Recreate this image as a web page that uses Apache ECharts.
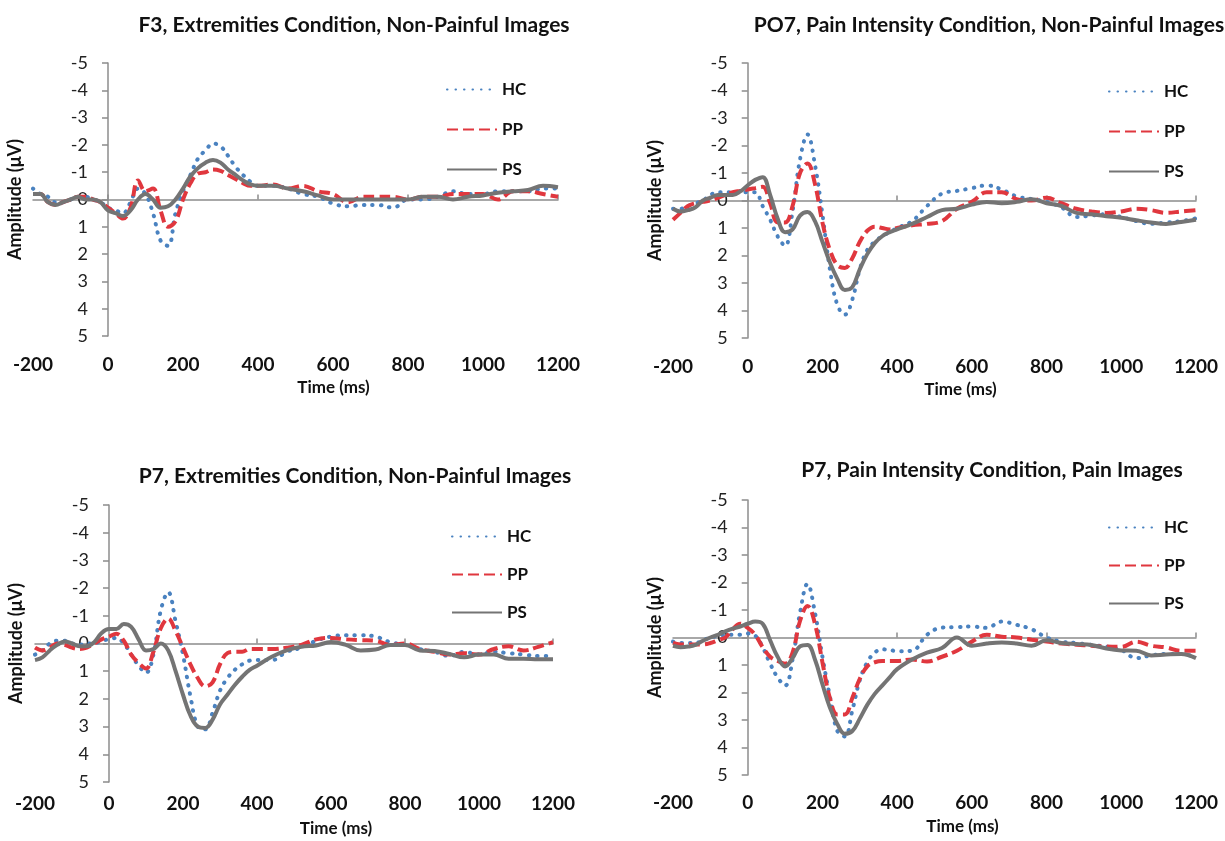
<!DOCTYPE html>
<html>
<head>
<meta charset="utf-8">
<title>ERP waveforms</title>
<script src="https://cdn.jsdelivr.net/npm/echarts@6/dist/echarts.min.js"></script>
<style>
  html, body { margin: 0; padding: 0; background: #fff; }
  #main { width: 1225px; height: 841px; }
</style>
</head>
<body>
<div id="main"></div>
<script>
// time points (ms), shared by all four panels
var times = [-200,-180,-160,-140,-120,-100,-80,-60,-40,-20,
  0,20,40,60,80,100,120,140,160,180,
  200,220,240,260,280,300,320,340,360,380,
  400,440,480,520,560,600,640,680,720,760,
  800,840,880,920,960,1000,1040,1080,1120,1160,1200];

// F3, Extremities Condition, Non-Painful Images (µV)
var f3HC = [-0.4,-0.2,-0.1,0.1,0.1,0.0,-0.1,-0.1,0.0,0.1,
  0.3,0.4,0.5,0.1,-0.4,-0.2,0.5,1.5,1.7,0.5,
  -0.3,-0.9,-1.5,-1.8,-2.05,-1.95,-1.6,-1.2,-0.9,-0.65,
  -0.5,-0.5,-0.4,-0.2,-0.1,0.15,0.25,0.2,0.2,0.3,
  0.0,0.0,-0.1,-0.3,-0.2,-0.2,-0.3,-0.3,-0.3,-0.4,-0.4];
var f3PP = [-0.2,-0.2,0.1,0.2,0.1,0.0,-0.1,-0.1,0.0,0.1,
  0.3,0.5,0.7,0.3,-0.7,-0.3,-0.4,0.4,1.0,0.8,
  0.0,-0.6,-0.95,-1.0,-1.1,-1.05,-0.9,-0.75,-0.6,-0.5,
  -0.5,-0.55,-0.4,-0.5,-0.3,-0.2,0.1,-0.1,-0.1,-0.1,
  0.0,-0.1,-0.1,-0.2,-0.2,-0.2,0.0,-0.3,-0.3,-0.2,-0.1];
var f3PS = [-0.2,-0.2,0.1,0.2,0.1,0.0,-0.1,0.0,0.0,0.1,
  0.4,0.5,0.6,0.4,0.0,-0.2,0.0,0.3,0.25,0.0,
  -0.4,-0.85,-1.15,-1.35,-1.45,-1.35,-1.1,-0.9,-0.7,-0.55,
  -0.5,-0.5,-0.4,-0.3,-0.15,0.0,0.0,0.0,0.0,0.0,
  0.0,-0.1,-0.1,0.0,-0.1,-0.15,-0.25,-0.3,-0.35,-0.5,-0.45];

// PO7, Pain Intensity Condition, Non-Painful Images
var po7HC = [0.3,0.3,0.2,0.1,0.0,-0.2,-0.3,-0.3,-0.3,-0.3,
  -0.3,-0.3,0.2,0.7,1.3,1.65,0.4,-1.5,-2.4,-1.3,
  0.5,2.5,3.8,4.15,3.6,2.5,1.8,1.5,1.3,1.15,
  1.0,0.75,0.2,-0.25,-0.35,-0.45,-0.55,-0.4,-0.15,-0.05,
  0.05,0.25,0.6,0.55,0.5,0.6,0.75,0.85,0.8,0.75,0.65];
var po7PP = [0.7,0.45,0.2,0.1,0.05,0.0,-0.1,-0.2,-0.3,-0.35,
  -0.4,-0.45,-0.5,0.1,0.8,0.8,0.2,-1.0,-1.35,-0.6,
  0.8,1.8,2.35,2.45,2.1,1.5,1.1,0.95,1.0,1.05,
  1.0,0.9,0.85,0.75,0.3,0.05,-0.3,-0.3,-0.05,0.0,
  -0.1,0.1,0.3,0.4,0.45,0.4,0.3,0.35,0.45,0.4,0.35];
var po7PS = [0.3,0.4,0.35,0.25,0.0,-0.1,-0.2,-0.2,-0.2,-0.33,
  -0.55,-0.75,-0.85,-0.2,0.65,1.15,1.05,0.55,0.42,0.75,
  1.5,2.25,2.85,3.25,3.15,2.5,1.95,1.55,1.3,1.15,
  1.05,0.85,0.6,0.35,0.3,0.15,0.05,0.1,0.05,-0.05,
  0.1,0.2,0.45,0.5,0.57,0.63,0.72,0.8,0.85,0.78,0.7];

// P7, Extremities Condition, Non-Painful Images
var p7eHC = [0.4,0.25,0.0,-0.1,-0.1,0.0,0.05,0.0,0.0,-0.1,
  -0.15,-0.2,0.0,0.4,0.8,1.05,0.4,-1.2,-1.85,-0.8,
  0.4,1.9,3.0,3.1,2.5,1.7,1.25,0.95,0.75,0.62,
  0.6,0.6,0.3,0.15,-0.1,-0.25,-0.3,-0.3,-0.25,-0.05,
  0.05,0.2,0.3,0.45,0.3,0.4,0.3,0.35,0.4,0.45,0.45];
var p7ePP = [0.15,0.25,0.15,0.0,0.05,0.15,0.2,0.15,0.0,-0.15,
  -0.25,-0.35,-0.1,0.4,0.7,0.9,0.3,-0.55,-0.9,-0.45,
  0.15,0.75,1.25,1.55,1.4,0.75,0.35,0.3,0.3,0.2,
  0.2,0.2,0.15,0.05,-0.15,-0.2,-0.15,-0.12,-0.1,0.05,
  0.0,0.2,0.3,0.4,0.35,0.4,0.2,0.1,0.25,0.12,-0.05];
var p7ePS = [0.6,0.5,0.25,0.05,-0.07,0.0,0.1,0.1,-0.05,-0.38,
  -0.52,-0.52,-0.7,-0.6,-0.15,0.25,0.2,0.0,0.25,1.0,
  1.85,2.6,3.0,3.05,2.75,2.2,1.85,1.5,1.2,0.95,
  0.8,0.48,0.25,0.12,0.07,-0.05,0.05,0.25,0.22,0.05,
  0.05,0.25,0.27,0.38,0.5,0.4,0.4,0.55,0.55,0.57,0.57];

// P7, Pain Intensity Condition, Pain Images
var p7pHC = [0.15,0.2,0.2,0.2,0.1,0.0,-0.05,-0.1,-0.1,-0.1,
  -0.15,-0.07,0.35,0.95,1.45,1.75,0.8,-0.9,-1.95,-0.9,
  0.7,2.15,3.4,3.6,2.65,1.55,0.9,0.55,0.43,0.45,
  0.5,0.48,-0.1,-0.36,-0.38,-0.4,-0.35,-0.58,-0.46,-0.3,
  0.0,0.15,0.2,0.27,0.33,0.45,0.75,0.65,0.6,0.6,0.72];
var p7pPP = [0.2,0.25,0.25,0.25,0.25,0.2,0.1,0.0,-0.3,-0.5,
  -0.35,-0.1,0.35,0.7,0.85,0.95,0.55,-0.6,-1.15,-0.5,
  0.9,2.2,2.8,2.8,2.2,1.5,1.05,0.9,0.85,0.85,
  0.85,0.8,0.87,0.7,0.48,0.15,-0.1,-0.03,0.0,0.08,
  0.15,0.22,0.26,0.3,0.33,0.34,0.15,0.3,0.36,0.48,0.48];
var p7pPS = [0.3,0.35,0.33,0.27,0.12,0.0,-0.1,-0.22,-0.32,-0.4,
  -0.5,-0.58,-0.5,0.1,0.7,1.05,0.75,0.32,0.27,0.8,
  1.7,2.55,3.15,3.5,3.4,2.95,2.45,2.05,1.75,1.45,
  1.15,0.8,0.55,0.38,0.0,0.3,0.22,0.18,0.22,0.3,
  0.1,0.2,0.24,0.27,0.4,0.47,0.48,0.65,0.62,0.6,0.75];

var panelTitles = [
  'F3, Extremities Condition, Non-Painful Images',
  'PO7, Pain Intensity Condition, Non-Painful Images',
  'P7, Extremities Condition, Non-Painful Images',
  'P7, Pain Intensity Condition, Pain Images'
];
var groupNames = ['HC', 'PP', 'PS'];
var panelData = [
  [f3HC, f3PP, f3PS],
  [po7HC, po7PP, po7PS],
  [p7eHC, p7ePP, p7ePS],
  [p7pHC, p7pPP, p7pPS]
];
var xTicks = { min: -200, max: 1200, step: 200 };
var yTicks = { min: -5, max: 5, step: 1 };

// where each panel sits on the page
var boxes = [
  { grid: { left: 33, top: 63, width: 525, height: 273 }, titleX: 349, titleY: 10,
    legendX: 441, legendY: 76, legendGap: 23, labelMargin: 19, nameGap: 43, nameShift: 76 },
  { grid: { left: 673, top: 63, width: 523, height: 275 }, titleX: 984, titleY: 10,
    legendX: 1103, legendY: 78, legendGap: 23, labelMargin: 19, nameGap: 43, nameShift: 52 },
  { grid: { left: 35, top: 505, width: 518, height: 277 }, titleX: 350, titleY: 461,
    legendX: 446, legendY: 523, legendGap: 21, labelMargin: 12, nameGap: 38, nameShift: 84 },
  { grid: { left: 673, top: 500, width: 523, height: 275 }, titleX: 987, titleY: 455,
    legendX: 1103, legendY: 514, legendGap: 21, labelMargin: 18, nameGap: 43, nameShift: 56 }
];

var font = 'Lato';
var axisColor = '#8c8c8c';
var lineStyles = [
  { color: '#4a82c0', width: 4, type: [0.5, 8], cap: 'round' },
  { color: '#e0373e', width: 4, type: [11, 5] },
  { color: '#747474', width: 4, type: 'solid' }
];

function plainNumber(v) { return String(v); }

var myChart = echarts.init(document.getElementById('main'));
var option = {
  backgroundColor: '#fff',
  animation: false,
  title: [], legend: [], grid: [], xAxis: [], yAxis: [], series: []
};

boxes.forEach(function (b, k) {
  var g = Object.assign({ outerBoundsMode: 'none', containLabel: false }, b.grid);
  // the amplitude axis stands at 0 ms, so pull it into the grid
  var zeroShift = b.grid.width * (0 - xTicks.min) / (xTicks.max - xTicks.min);
  option.grid.push(g);
  option.title.push({
    text: panelTitles[k], left: b.titleX, top: b.titleY, textAlign: 'center',
    textStyle: { fontFamily: font, fontWeight: 'bold', fontSize: 21, color: '#111' }
  });
  option.legend.push({
    data: groupNames, orient: 'vertical', left: b.legendX, top: b.legendY,
    itemWidth: 50, itemHeight: 14, itemGap: b.legendGap, selectedMode: false,
    itemStyle: { color: 'rgba(0,0,0,0)', borderColor: 'rgba(0,0,0,0)', borderWidth: 0 },
    textStyle: { fontFamily: font, fontWeight: 'bold', fontSize: 17, color: '#111' }
  });
  // x axis line through 0 µV
  option.xAxis.push({
    type: 'value', gridIndex: k, min: xTicks.min, max: xTicks.max, interval: xTicks.step,
    axisLine: { onZero: true, onZeroAxisIndex: k, lineStyle: { color: axisColor, width: 1.5 } },
    axisTick: { inside: true, length: 5, customValues: [0, 400, 800, 1200], lineStyle: { color: axisColor, width: 1.5 } },
    axisLabel: { show: false },
    splitLine: { show: false }
  });
  // time labels + axis title along the bottom
  option.xAxis.push({
    type: 'value', gridIndex: k, position: 'bottom', min: xTicks.min, max: xTicks.max, interval: xTicks.step,
    name: 'Time (ms)', nameLocation: 'middle', nameGap: b.nameGap,
    nameTextStyle: { fontFamily: font, fontWeight: 'bold', fontSize: 17, color: '#111', padding: [0, 0, 0, b.nameShift] },
    axisLine: { show: false, onZero: false },
    axisTick: { show: false },
    axisLabel: { margin: b.labelMargin, formatter: plainNumber, fontFamily: font, fontWeight: 'bold', fontSize: 19, color: '#111' },
    splitLine: { show: false }
  });
  option.yAxis.push({
    type: 'value', gridIndex: k, position: 'left', offset: -zeroShift,
    inverse: true, min: yTicks.min, max: yTicks.max, interval: yTicks.step,
    name: 'Amplitude (μV)', nameLocation: 'middle', nameGap: 84,
    nameTextStyle: { fontFamily: font, fontWeight: 'bold', fontSize: 18, color: '#111' },
    axisLine: { show: true, onZero: false, lineStyle: { color: axisColor, width: 1.5 } },
    axisTick: { show: true, length: 6, lineStyle: { color: axisColor, width: 1.5 } },
    axisLabel: { margin: 20, formatter: plainNumber, fontFamily: font, fontSize: 18, color: '#222' },
    splitLine: { show: false }
  });
  groupNames.forEach(function (name, s) {
    var vals = panelData[k][s];
    option.series.push({
      name: name, type: 'line', xAxisIndex: 2 * k, yAxisIndex: k,
      data: times.map(function (t, i) { return [t, vals[i]]; }),
      smooth: 0.4, symbol: 'none',
      lineStyle: lineStyles[s],
      itemStyle: { color: lineStyles[s].color }
    });
  });
});

myChart.setOption(option);
</script>
</body>
</html>
